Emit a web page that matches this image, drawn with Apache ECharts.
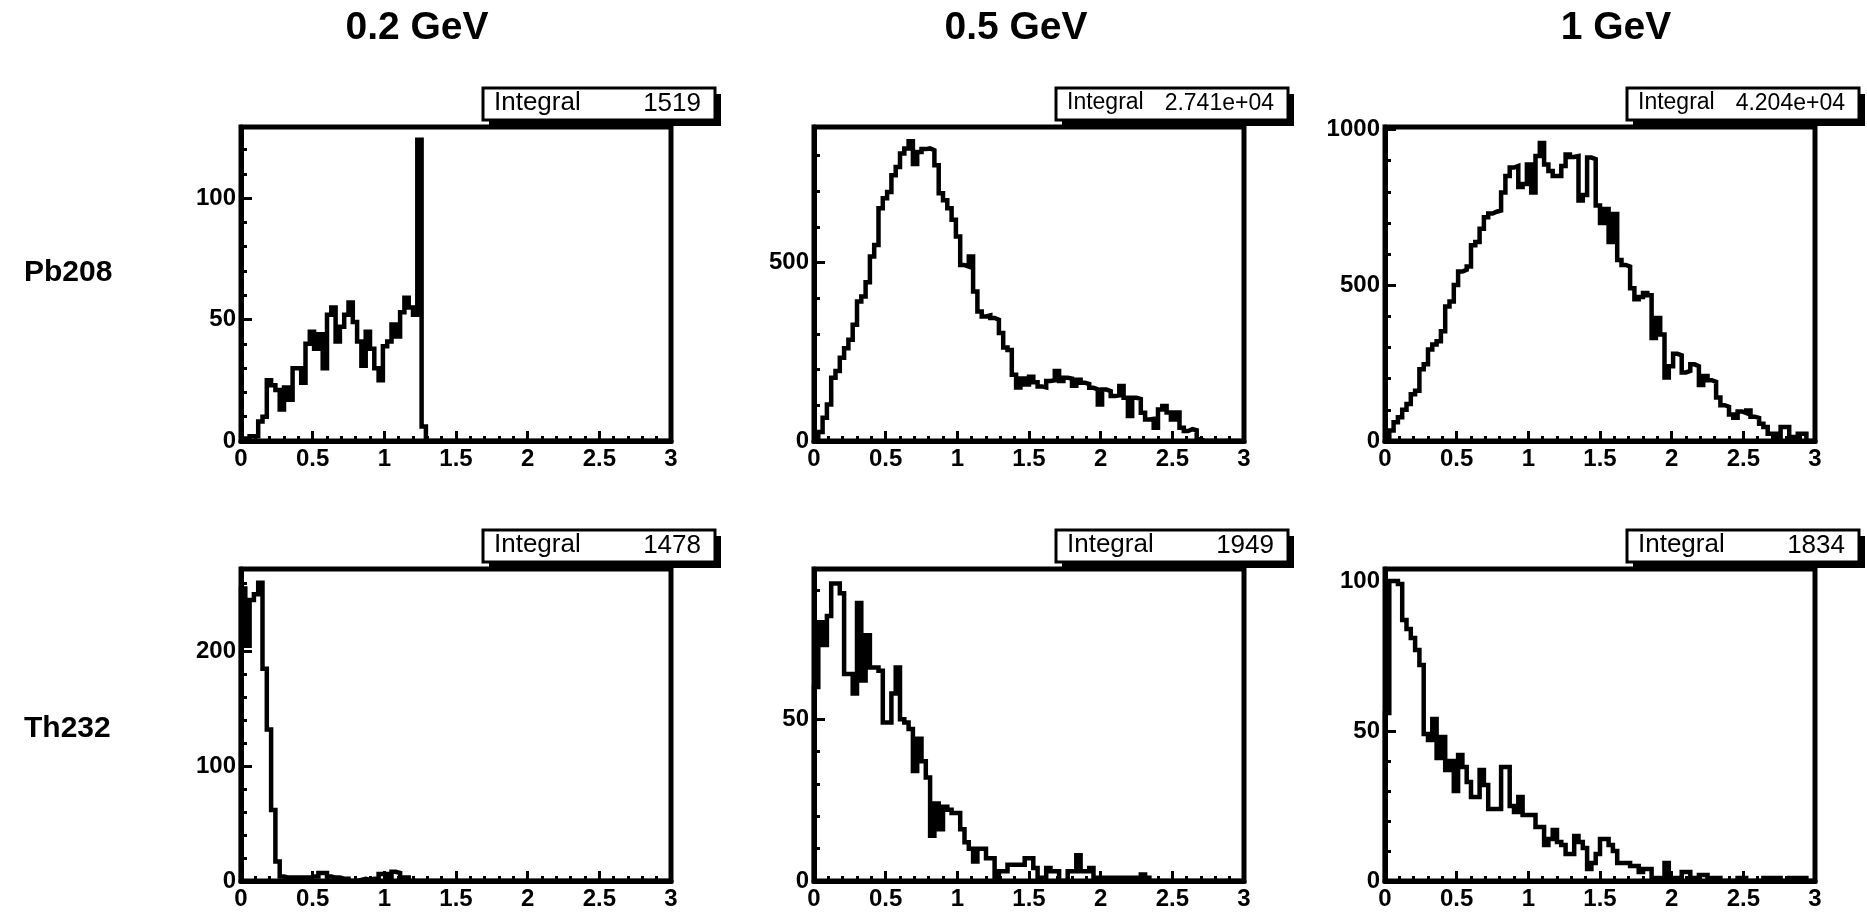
<!DOCTYPE html>
<html>
<head>
<meta charset="utf-8">
<title>Pb208 / Th232 spectra</title>
<script src="https://cdn.jsdelivr.net/npm/echarts@6/dist/echarts.min.js"></script>
<style>
  html, body { margin: 0; padding: 0; background: #fff; }
  #chart { width: 1867px; height: 912px; }
</style>
</head>
<body>
<div id="chart"></div>
<script>
// 100 bins from 0 to 3
var binWidth = 0.03;
var xMin = 0;
var xMax = 3;

var energyTitles = ["0.2 GeV", "0.5 GeV", "1 GeV"];
var nucleusLabels = ["Pb208", "Th232"];
var integralValues = ["1519", "2.741e+04", "4.204e+04", "1478", "1949", "1834"];

// bin contents
var pb208_02 = [
  0, 1, 2, 2, 8, 10, 25, 23, 21, 13,
  22, 17, 30, 30, 24, 40, 45, 38, 44, 30,
  52, 55, 41, 47, 52, 57, 49, 41, 31, 45,
  38, 30, 25, 39, 41, 48, 43, 53, 59, 55,
  52, 124, 6, 0, 0, 0, 0, 0, 0, 0,
  0, 0, 0, 0, 0, 0, 0, 0, 0, 0,
  0, 0, 0, 0, 0, 0, 0, 0, 0, 0,
  0, 0, 0, 0, 0, 0, 0, 0, 0, 0,
  0, 0, 0, 0, 0, 0, 0, 0, 0, 0,
  0, 0, 0, 0, 0, 0, 0, 0, 0, 0
];
var pb208_05 = [
  0, 25, 65, 102, 177, 196, 233, 260, 284, 326,
  391, 405, 445, 517, 549, 652, 680, 698, 745, 768,
  806, 820, 840, 776, 810, 818, 820, 815, 773, 694,
  675, 652, 620, 573, 493, 489, 517, 419, 363, 349,
  352, 345, 340, 303, 262, 255, 186, 150, 175, 158,
  180, 165, 153, 150, 168, 170, 196, 168, 177, 175,
  155, 172, 163, 160, 149, 145, 102, 144, 140, 126,
  128, 154, 121, 70, 121, 118, 79, 60, 62, 37,
  88, 98, 80, 60, 80, 37, 28, 33, 30, 5,
  0, 0, 0, 0, 0, 0, 0, 0, 0, 0
];
var pb208_1 = [
  0, 34, 60, 76, 100, 119, 150, 161, 230, 246,
  294, 310, 320, 352, 432, 448, 501, 544, 550, 560,
  628, 639, 681, 718, 730, 736, 740, 798, 851, 878,
  883, 815, 825, 888, 798, 915, 957, 888, 867, 851,
  851, 883, 920, 912, 915, 772, 790, 910, 905, 756,
  700, 745, 639, 729, 581, 565, 560, 490, 455, 462,
  475, 468, 331, 395, 342, 204, 240, 280, 275, 220,
  225, 246, 240, 180, 209, 195, 190, 140, 115, 110,
  85, 75, 95, 90, 98, 78, 74, 55, 45, 23,
  23, 7, 45, 45, 13, 13, 23, 23, 0, 0
];
var th232_02 = [
  255, 205, 245, 250, 260, 185, 132, 62, 17, 4,
  3, 3, 3, 3, 3, 3, 4, 4, 7, 7,
  4, 3, 3, 2, 2, 0, 0, 1, 2, 1,
  2, 2, 6, 6, 2, 8, 7, 3, 3, 0,
  0, 0, 0, 0, 0, 0, 0, 0, 0, 0,
  0, 0, 0, 0, 0, 0, 0, 0, 0, 0,
  0, 0, 0, 0, 0, 0, 0, 0, 0, 0,
  0, 0, 0, 0, 0, 0, 0, 0, 0, 0,
  0, 0, 0, 0, 0, 0, 0, 0, 0, 0,
  0, 0, 0, 0, 0, 0, 0, 0, 0, 0
];
var th232_05 = [
  60, 80, 73, 82, 92, 92, 89, 64, 64, 58,
  86, 62, 76, 66, 66, 65, 49, 49, 58, 66,
  50, 49, 47, 34, 44, 37, 32, 14, 24, 16,
  23, 22, 21, 21, 16, 12, 10, 6, 10, 10,
  7, 7, 1, 3, 3, 5, 5, 5, 5, 7,
  7, 4, 1, 1, 4, 3, 3, 0, 0, 3,
  3, 8, 3, 3, 4, 1, 1, 1, 1, 1,
  1, 1, 1, 1, 1, 1, 2, 1, 0, 0,
  0, 0, 0, 0, 0, 0, 0, 0, 0, 0,
  0, 0, 0, 0, 0, 0, 0, 0, 0, 0
];
var th232_1 = [
  56, 100, 100, 99, 87, 84, 81, 77, 72, 49,
  47, 54, 41, 48, 37, 40, 30, 42, 38, 33,
  28, 28, 37, 32, 24, 24, 24, 38, 38, 25,
  23, 28, 22, 22, 22, 18, 18, 12, 14, 17,
  13, 12, 9, 9, 15, 13, 11, 4, 6, 9,
  14, 14, 12, 10, 6, 6, 6, 5, 5, 3,
  4, 4, 1, 1, 1, 6, 1, 1, 1, 3,
  3, 1, 1, 2, 2, 1, 1, 1, 0, 0,
  0, 0, 1, 1, 0, 0, 0, 0, 1, 1,
  1, 1, 0, 0, 1, 1, 1, 1, 0, 0
];

// y axis range and tick steps for each pad
var yMaxes = [129.3, 880, 1008, 272, 96.5, 104];
var yMajorSteps = [50, 500, 500, 100, 50, 50];
var yMinorSteps = [10, 100, 100, 20, 10, 10];

var histograms = [pb208_02, pb208_05, pb208_1, th232_02, th232_05, th232_1];

// pad layout (px)
var colLeft = [241, 814, 1385];
var rowTop = [127, 569];
var rowHeight = [314, 312];
var padWidth = 430;

var labelFont = "'Liberation Sans Narrow', 'Liberation Sans', Arial, sans-serif";
var textFont = "'Liberation Sans', Arial, sans-serif";

function histPoints(counts) {
  var pts = [[xMin, 0]];
  for (var i = 0; i < counts.length; i++) {
    pts.push([xMin + i * binWidth, counts[i]]);
  }
  pts.push([xMax, counts[counts.length - 1]]);
  pts.push([xMax, 0]);
  return pts;
}

var grids = [], xAxes = [], yAxes = [], series = [], graphics = [];

for (var i = 0; i < 6; i++) {
  var r = Math.floor(i / 3), c = i % 3;
  var step = yMajorSteps[i];

  grids.push({
    left: colLeft[c],
    top: rowTop[r],
    width: padWidth,
    height: rowHeight[r],
    show: true,
    borderColor: "#000",
    borderWidth: 5
  });

  xAxes.push({
    gridIndex: i,
    type: "value",
    min: xMin,
    max: xMax,
    interval: 0.5,
    axisLine: { show: true, onZero: false, lineStyle: { color: "#000", width: 5 } },
    axisTick: { show: true, inside: true, length: 10, lineStyle: { color: "#000", width: 3 } },
    minorTick: { show: true, splitNumber: 5, length: 5, lineStyle: { color: "#000", width: 3 } },
    splitLine: { show: false },
    axisLabel: {
      color: "#000",
      fontSize: 24,
      fontWeight: "bold",
      fontFamily: labelFont,
      margin: 6
    }
  });

  // major ticks with labels
  yAxes.push({
    gridIndex: i,
    type: "value",
    position: "left",
    min: 0,
    max: yMaxes[i],
    interval: step,
    axisLine: { show: true, onZero: false, lineStyle: { color: "#000", width: 5 } },
    axisTick: { show: true, inside: true, length: 11, lineStyle: { color: "#000", width: 3 } },
    splitLine: { show: false },
    axisLabel: {
      color: "#000",
      fontSize: 24,
      fontWeight: "bold",
      fontFamily: labelFont,
      margin: 5,
      formatter: (function (s) {
        return function (v) {
          var q = v / s;
          return Math.abs(q - Math.round(q)) < 1e-6 ? String(v) : "";
        };
      })(step)
    }
  });
  // minor ticks
  yAxes.push({
    gridIndex: i,
    type: "value",
    position: "left",
    min: 0,
    max: yMaxes[i],
    interval: yMinorSteps[i],
    axisLine: { show: false },
    axisTick: { show: true, inside: true, length: 6, lineStyle: { color: "#000", width: 3 } },
    axisLabel: { show: false },
    splitLine: { show: false }
  });

  series.push({
    type: "line",
    xAxisIndex: i,
    yAxisIndex: 2 * i,
    data: histPoints(histograms[i]),
    step: "end",
    symbol: "none",
    silent: true,
    lineStyle: { color: "#000", width: 4.5, join: "miter" }
  });

  // stats box
  var bx = colLeft[c] + 242, by = rowTop[r] - 39, bw = 232, bh = 32;
  var fs = (i === 1 || i === 2) ? 23 : 26;
  graphics.push({
    type: "rect",
    shape: { x: bx + 6, y: by + 6, width: bw, height: bh },
    style: { fill: "#000" },
    z: 10
  });
  graphics.push({
    type: "rect",
    shape: { x: bx, y: by, width: bw, height: bh },
    style: { fill: "#fff", stroke: "#000", lineWidth: 3 },
    z: 11
  });
  graphics.push({
    type: "text",
    x: bx + 11,
    y: by + 15,
    style: { text: "Integral", fill: "#000", font: fs + "px " + textFont, align: "left", verticalAlign: "middle" },
    z: 12
  });
  graphics.push({
    type: "text",
    x: bx + bw - 14,
    y: by + 16,
    style: { text: integralValues[i], fill: "#000", font: fs + "px " + textFont, align: "right", verticalAlign: "middle" },
    z: 12
  });
}

var titleX = [417, 1016, 1616];
for (var t = 0; t < 3; t++) {
  graphics.push({
    type: "text",
    x: titleX[t],
    y: 28,
    style: { text: energyTitles[t], fill: "#000", font: "bold 39px " + textFont, align: "center", verticalAlign: "middle" }
  });
}

var rowLabelY = [273, 729];
for (var n = 0; n < 2; n++) {
  graphics.push({
    type: "text",
    x: 24,
    y: rowLabelY[n],
    style: { text: nucleusLabels[n], fill: "#000", font: "bold 30px " + textFont, align: "left", verticalAlign: "middle" }
  });
}

var chart = echarts.init(document.getElementById("chart"));
chart.setOption({
  animation: false,
  backgroundColor: "#fff",
  grid: grids,
  xAxis: xAxes,
  yAxis: yAxes,
  series: series,
  graphic: graphics
});
</script>
</body>
</html>
